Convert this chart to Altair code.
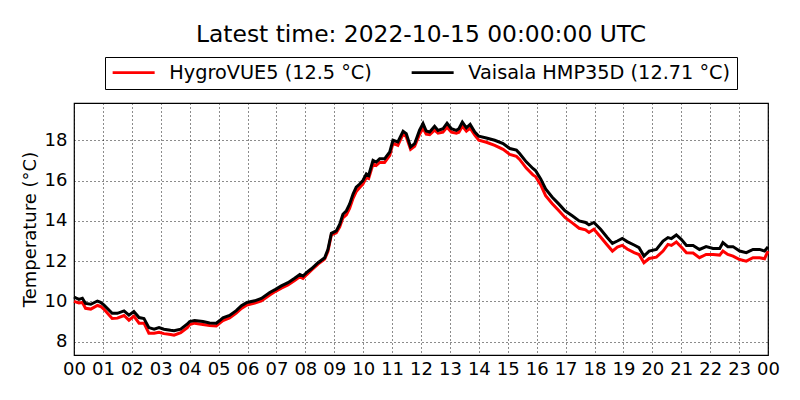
import altair as alt
import pandas as pd

title_text = "Latest time: 2022-10-15 00:00:00 UTC"
names = ["HygroVUE5 (12.5 °C)", "Vaisala HMP35D (12.71 °C)"]
colors = ["#ff0000", "#000000"]
x_ticks = list(range(0, 25))
y_ticks = [8, 10, 12, 14, 16, 18]
y_domain = [7.34, 19.85]

hours = [
    0.00, 0.17, 0.29, 0.40, 0.58, 0.81, 0.92, 1.03, 1.32, 1.50,
    1.73, 1.90, 2.07, 2.25, 2.42, 2.59, 2.77, 2.94, 3.11, 3.34,
    3.46, 3.69, 3.92, 4.00, 4.17, 4.46, 4.69, 4.92, 5.04, 5.15,
    5.38, 5.61, 5.79, 5.98, 6.25, 6.48, 6.77, 6.97, 7.17, 7.40,
    7.63, 7.81, 7.92, 8.04, 8.21, 8.44, 8.67, 8.78, 8.90, 9.07,
    9.19, 9.30, 9.42, 9.53, 9.65, 9.76, 9.88, 9.99, 10.11, 10.19,
    10.34, 10.45, 10.57, 10.74, 10.92, 11.03, 11.20, 11.38, 11.49, 11.64,
    11.78, 11.95, 12.07, 12.18, 12.30, 12.47, 12.59, 12.76, 12.90, 13.05,
    13.22, 13.31, 13.43, 13.57, 13.70, 13.86, 14.00, 14.26, 14.55, 14.84,
    15.07, 15.30, 15.41, 15.64, 15.87, 15.96, 16.14, 16.31, 16.54, 16.77,
    16.98, 17.23, 17.47, 17.69, 17.81, 17.98, 18.21, 18.44, 18.62, 18.79,
    18.96, 19.13, 19.37, 19.54, 19.71, 19.89, 20.14, 20.37, 20.54, 20.66,
    20.83, 21.00, 21.18, 21.41, 21.63, 21.86, 22.10, 22.33, 22.44, 22.61,
    22.79, 23.02, 23.25, 23.48, 23.71, 23.88, 24.00,
]

vaisala = [
    10.22, 10.10, 10.16, 9.90, 9.86, 10.02, 9.96, 9.83, 9.41, 9.41,
    9.53, 9.32, 9.50, 9.20, 9.15, 8.70, 8.62, 8.70, 8.62, 8.57,
    8.55, 8.62, 8.88, 9.00, 9.05, 9.00, 8.93, 8.92, 9.05, 9.18,
    9.30, 9.54, 9.79, 9.95, 10.03, 10.15, 10.44, 10.60, 10.77, 10.93,
    11.15, 11.34, 11.26, 11.43, 11.62, 11.92, 12.17, 12.58, 13.38, 13.50,
    13.83, 14.33, 14.50, 14.83, 15.33, 15.67, 15.83, 16.00, 16.33, 16.25,
    17.00, 16.92, 17.08, 17.08, 17.42, 18.00, 17.92, 18.45, 18.33, 17.67,
    17.83, 18.50, 18.83, 18.46, 18.41, 18.69, 18.49, 18.57, 18.85, 18.57,
    18.49, 18.57, 18.90, 18.62, 18.79, 18.41, 18.20, 18.11, 18.00, 17.84,
    17.59, 17.51, 17.34, 16.93, 16.60, 16.50, 16.08, 15.58, 15.17, 14.83,
    14.50, 14.25, 14.00, 13.92, 13.80, 13.92, 13.58, 13.17, 12.88, 13.00,
    13.13, 12.97, 12.80, 12.67, 12.25, 12.50, 12.58, 13.00, 13.17, 13.12,
    13.30, 13.08, 12.78, 12.78, 12.58, 12.72, 12.63, 12.63, 12.92, 12.72,
    12.72, 12.50, 12.42, 12.58, 12.58, 12.50, 12.71,
]

hygrovue = [
    10.00, 9.92, 9.95, 9.66, 9.62, 9.80, 9.75, 9.62, 9.15, 9.17,
    9.30, 9.07, 9.27, 8.92, 8.92, 8.42, 8.42, 8.47, 8.40, 8.36,
    8.32, 8.45, 8.70, 8.85, 8.92, 8.85, 8.80, 8.78, 8.92, 9.05,
    9.18, 9.42, 9.65, 9.82, 9.92, 10.03, 10.32, 10.50, 10.66, 10.82,
    11.04, 11.22, 11.14, 11.32, 11.55, 11.85, 12.10, 12.48, 13.30, 13.40,
    13.70, 14.15, 14.30, 14.62, 15.12, 15.45, 15.65, 15.82, 16.15, 16.10,
    16.82, 16.75, 16.90, 16.90, 17.25, 17.85, 17.75, 18.30, 18.18, 17.55,
    17.70, 18.30, 18.60, 18.30, 18.28, 18.50, 18.35, 18.40, 18.65, 18.40,
    18.35, 18.40, 18.70, 18.45, 18.60, 18.25, 18.00, 17.90, 17.75, 17.55,
    17.30, 17.20, 17.05, 16.62, 16.28, 16.20, 15.78, 15.25, 14.85, 14.50,
    14.17, 13.90, 13.63, 13.55, 13.42, 13.58, 13.20, 12.80, 12.50, 12.70,
    12.78, 12.60, 12.42, 12.33, 11.92, 12.13, 12.20, 12.50, 12.83, 12.78,
    12.95, 12.70, 12.42, 12.40, 12.17, 12.33, 12.33, 12.30, 12.50, 12.33,
    12.25, 12.08, 12.00, 12.17, 12.17, 12.12, 12.50,
]

df = pd.concat([
    pd.DataFrame({"hour": hours, "temp": hygrovue, "sensor": names[0]}),
    pd.DataFrame({"hour": hours, "temp": vaisala, "sensor": names[1]}),
], ignore_index=True)

FONT = "DejaVu Sans"

color = alt.Color(
    "sensor:N",
    scale=alt.Scale(domain=names, range=colors),
    legend=alt.Legend(
        title=None, orient="none", legendX=31, legendY=-46,
        direction="horizontal", symbolType="M-1.6,0H6.8", symbolSize=100,
        symbolStrokeWidth=2.8, labelFontSize=19.3, labelFont=FONT,
        labelColor="black", labelLimit=400, strokeColor="black",
        fillColor="white", padding=6, columnPadding=34, labelOffset=39,
        cornerRadius=0,
    ),
)

x = alt.X(
    "hour:Q",
    scale=alt.Scale(domain=[0, 24], nice=False, zero=False),
    axis=alt.Axis(
        title=None, values=x_ticks, labelFlush=False, labelOverlap=False,
        labelExpr="(datum.value % 24 < 10 ? '0' : '') + (datum.value % 24)",
        labelPadding=5,
    ),
)
y = alt.Y(
    "temp:Q",
    scale=alt.Scale(domain=y_domain, nice=False, zero=False),
    axis=alt.Axis(
        title="Temperature (°C)", values=y_ticks, labelFlush=False,
        labelPadding=7, titlePadding=5,
    ),
)

base = alt.Chart(df).mark_line(strokeWidth=3).encode(x=x, y=y, color=color)
red = base.transform_filter(alt.datum.sensor == names[0])
black = base.transform_filter(alt.datum.sensor == names[1])

chart = (
    alt.layer(red, black)
    .properties(
        width=694, height=252,
        title=alt.TitleParams(title_text, offset=-9, baseline="alphabetic"),
        autosize=alt.AutoSizeParams(type="none"),
        padding={"left": 66, "top": 95, "right": 24, "bottom": 37},
    )
    .configure_view(stroke="black", strokeWidth=1.2)
    .configure_axis(
        labelFont=FONT, titleFont=FONT, labelFontSize=18, titleFontSize=18,
        titleFontWeight="normal", labelColor="black", titleColor="black",
        grid=True, gridColor="black", gridDash=[1, 3], gridWidth=1,
        gridOpacity=0.9, domain=False, ticks=False,
    )
    .configure_title(font=FONT, fontSize=23.4, fontWeight="normal",
                     color="black", anchor="middle")
)

chart.save("out.html", embed_options={"renderer": "svg", "actions": False})
